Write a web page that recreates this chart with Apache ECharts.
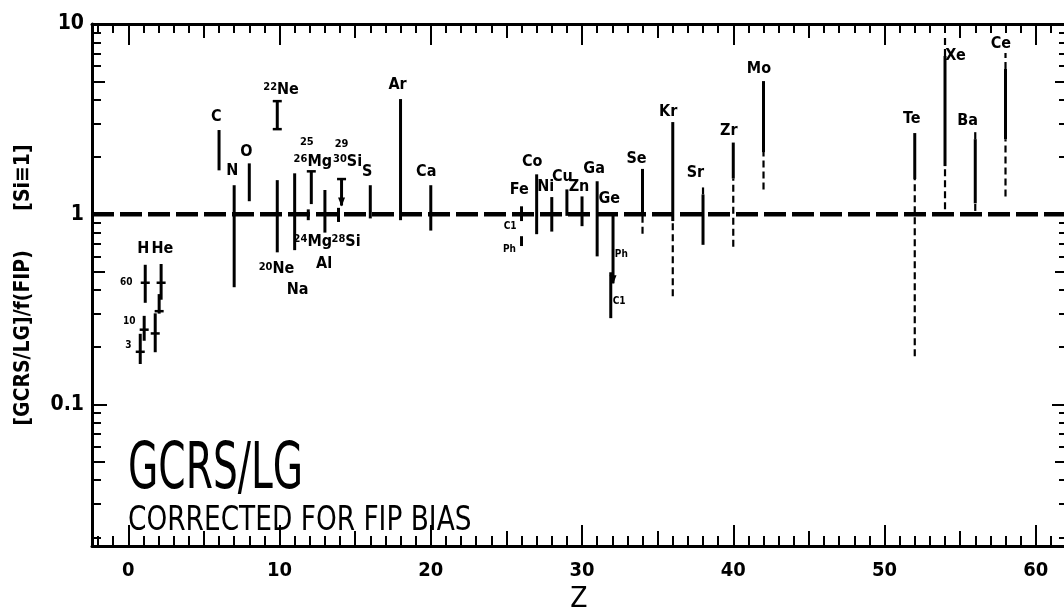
<!DOCTYPE html>
<html><head><meta charset="utf-8">
<script src="https://cdn.jsdelivr.net/npm/echarts@6/dist/echarts.min.js"></script>
<style>html,body{margin:0;padding:0;background:#fff}#c{width:1064px;height:609px}</style>
</head><body><div id="c"></div>
<script>
const FONT = '"DejaVu Sans Condensed","DejaVu Sans",sans-serif';

// ---------- axes ----------
const xMin = -2.4, xMax = 62;
const xLabelValues = [0, 10, 20, 30, 40, 50, 60];
const xLabelTexts = ['0', '10', '20', '30', '40', '50', '60'];
const xMidTicks = [5, 15, 25, 35, 45, 55];
const xMinorTicks = [];
for (let i = -2; i <= 61; i++) xMinorTicks.push(i);

const yMin = 0.018, yMax = 10;
const yLabelValues = [0.1, 1, 10];
const yLabelTexts = ['0.1', '1', '10'];
const yFives = [0.05, 0.5, 5];
const yMinor = [0.02, 0.03, 0.04, 0.06, 0.07, 0.08, 0.09,
                0.2, 0.3, 0.4, 0.6, 0.7, 0.8, 0.9,
                2, 3, 4, 6, 7, 8, 9];

// ---------- data ----------
// reference level (Si = 1), dashed
const unityLine = [[-2.4, 1], [62, 1]];

// measured ranges [Z, low, high] (solid)
const solidRanges = [
  [1.12, 0.342, 0.542], [1.05, 0.216, 0.292], [0.79, 0.163, 0.235],   // H 60,10,3
  [2.17, 0.355, 0.547], [2.04, 0.30, 0.38], [1.78, 0.188, 0.301],     // He 60,10,3
  [6, 1.70, 2.77],      // C
  [7, 0.413, 1.42],     // N
  [8, 1.17, 1.85],      // O
  [9.85, 2.80, 3.93],   // 22Ne
  [9.85, 0.63, 1.51],   // 20Ne
  [11, 0.647, 1.64],    // Na
  [12.1, 1.13, 1.68],   // 25,26Mg
  [11.9, 0.93, 1.06],   // 24Mg
  [13, 0.80, 1.34],     // Al
  [14.1, 1.11, 1.53],   // 29,30Si
  [13.9, 0.91, 1.08],   // 28Si
  [16, 0.95, 1.42],     // S
  [18, 0.93, 4.03],     // Ar
  [20, 0.82, 1.42],     // Ca
  [26, 0.92, 1.10],     // Fe C1
  [26, 0.68, 0.766],    // Fe Ph
  [27, 0.785, 1.62],    // Co
  [28, 0.81, 1.23],     // Ni
  [29, 0.98, 1.35],     // Cu
  [30, 0.865, 1.24],    // Zn
  [31, 0.60, 1.49],     // Ga
  [32.05, 0.433, 1.01], // Ge Ph
  [31.9, 0.284, 0.495], // Ge C1
  [34, 1.0, 1.73],      // Se
  [36, 0.92, 3.05],     // Kr
  [38, 0.69, 1.27],     // Sr
  [40, 1.54, 2.38],     // Zr
  [42, 2.12, 5.01],     // Mo
  [52, 1.53, 2.67],     // Te
  [54, 1.79, 6.79],     // Xe
  [56, 1.14, 2.48],     // Ba
  [58, 2.48, 5.80]      // Ce
];

// uncertain extensions [Z, low, high] (dashed)
const dashedRanges = [
  [34, 0.79, 1.0],      // Se
  [36, 0.37, 0.92],     // Kr
  [38, 1.27, 1.43],     // Sr
  [40, 0.674, 1.54],    // Zr
  [42, 1.35, 2.12],     // Mo
  [52, 0.179, 1.53],    // Te
  [54, 6.79, 8.44], [54, 1.06, 1.79],   // Xe
  [56, 2.48, 2.73], [56, 1.04, 1.14],   // Ba
  [58, 5.80, 7.03], [58, 1.24, 2.48]    // Ce
];

// end caps [Z, value]
const endCaps = [[9.85, 3.93], [9.85, 2.80], [12.1, 1.68], [14.1, 1.53]];
// H/He central values [Z, value]
const centralValues = [[1.12, 0.436], [1.05, 0.247], [0.79, 0.189],
                       [2.17, 0.436], [2.04, 0.309], [1.78, 0.236]];
// downward arrows (limits) [Z, value]
const arrowHeads = [[14.1, 1.11], [32.05, 0.433]];

// element labels [superscript, symbol, Z, value]
const elementLabels = [
  ['', 'H', 0.99, 0.654], ['', 'He', 2.25, 0.654],
  ['', 'C', 5.82, 3.24], ['', 'N', 6.87, 1.68], ['', 'O', 7.8, 2.12],
  ['22', 'Ne', 10.1, 4.5], ['20', 'Ne', 9.8, 0.514], ['', 'Na', 11.2, 0.398],
  ['25', '', 11.8, 2.39], ['26', 'Mg', 12.2, 1.88], ['24', 'Mg', 12.2, 0.713],
  ['', 'Al', 12.95, 0.545],
  ['29', '', 14.1, 2.34], ['30', 'Si', 14.5, 1.88], ['28', 'Si', 14.4, 0.713],
  ['', 'S', 15.8, 1.66], ['', 'Ar', 17.8, 4.77], ['', 'Ca', 19.7, 1.66],
  ['', 'Fe', 25.85, 1.35], ['', 'Co', 26.7, 1.88], ['', 'Ni', 27.6, 1.40],
  ['', 'Cu', 28.7, 1.57], ['', 'Zn', 29.8, 1.40], ['', 'Ga', 30.8, 1.73],
  ['', 'Ge', 31.8, 1.21], ['', 'Se', 33.6, 1.95], ['', 'Kr', 35.7, 3.44],
  ['', 'Sr', 37.5, 1.64], ['', 'Zr', 39.7, 2.73], ['', 'Mo', 41.7, 5.8],
  ['', 'Te', 51.8, 3.18], ['', 'Xe', 54.7, 6.83], ['', 'Ba', 55.5, 3.1],
  ['', 'Ce', 57.7, 7.9]
];
// small annotations [text, Z, value]
const smallLabels = [
  ['60', -0.13, 0.438], ['10', 0.07, 0.273], ['3', 0.0, 0.205],
  ['C1', 25.25, 0.865], ['Ph', 25.2, 0.654],
  ['Ph', 32.6, 0.616], ['C1', 32.45, 0.348]
];

const titleMain = 'GCRS/LG';
const titleSub = 'CORRECTED FOR FIP BIAS';
const yTitle = '[GCRS/LG]/f(FIP)      [Si\u22611]';
const xTitle = 'Z';

// ---------- chart ----------
const chart = echarts.init(document.getElementById('c'));
const BLACK = '#000';

function xAx(pos, ticks, len, extra) {
  return Object.assign({
    type: 'value', position: pos, min: xMin, max: xMax,
    axisLine: { show: false, onZero: false }, splitLine: { show: false },
    axisTick: { show: true, inside: true, length: len, customValues: ticks, lineStyle: { color: BLACK, width: 2 } },
    axisLabel: { show: false }
  }, extra || {});
}
function yAx(pos, ticks, len, extra) {
  return Object.assign({
    type: 'log', logBase: 10, position: pos, min: yMin, max: yMax,
    axisLine: { show: false, onZero: false }, splitLine: { show: false }, minorTick: { show: false },
    axisTick: { show: true, inside: true, length: len, customValues: ticks, lineStyle: { color: BLACK, width: 2 } },
    axisLabel: { show: false }
  }, extra || {});
}

const lineAxis = { show: true, onZero: false, lineStyle: { color: BLACK, width: 3 } };

const xAxes = [
  xAx('bottom', xLabelValues, 21, {
    axisLine: lineAxis,
    axisLabel: {
      show: true, customValues: xLabelValues, margin: 15, color: BLACK,
      fontFamily: FONT, fontSize: 20, fontWeight: 'bold',
      formatter: v => xLabelTexts[xLabelValues.indexOf(Math.round(v))] || ''
    },
    name: xTitle, nameLocation: 'middle', nameGap: 40,
    nameTextStyle: { color: BLACK, fontFamily: FONT, fontSize: 28 }
  }),
  xAx('bottom', xMidTicks, 15),
  xAx('bottom', xMinorTicks, 10),
  xAx('top', xLabelValues, 21, { axisLine: lineAxis }),
  xAx('top', xMidTicks, 14),
  xAx('top', xMinorTicks, 9)
];

const yAxes = [
  yAx('left', yLabelValues, 15, {
    axisLine: lineAxis,
    axisLabel: {
      show: true, customValues: yLabelValues, margin: 8, color: BLACK,
      fontFamily: FONT, fontSize: 21, fontWeight: 'bold',
      formatter: v => {
        const i = yLabelValues.findIndex(t => Math.abs(Math.log10(t) - Math.log10(v)) < 0.01);
        return i >= 0 ? yLabelTexts[i] : '';
      }
    },
    name: yTitle, nameLocation: 'middle', nameRotate: 90, nameGap: 58,
    nameTextStyle: { color: BLACK, fontFamily: FONT, fontSize: 21, fontWeight: 'bold' }
  }),
  yAx('left', yFives, 13),
  yAx('left', yMinor, 9),
  yAx('right', yLabelValues, 14, { axisLine: lineAxis }),
  yAx('right', yFives, 11),
  yAx('right', yMinor, 7)
];

function rangeRenderer(dashed) {
  return function (params, api) {
    const z = api.value(0), lo = api.value(1), hi = api.value(2);
    const p1 = api.coord([z, lo]), p2 = api.coord([z, hi]);
    return {
      type: 'line',
      shape: { x1: p1[0], y1: p1[1], x2: p2[0], y2: p2[1] },
      style: { stroke: BLACK, lineWidth: dashed ? 2.2 : 3, lineDash: dashed ? [7, 4] : null, lineCap: 'butt' }
    };
  };
}
function hbarRenderer(halfWidth, lw) {
  return function (params, api) {
    const p = api.coord([api.value(0), api.value(1)]);
    return {
      type: 'line',
      shape: { x1: p[0] - halfWidth, y1: p[1], x2: p[0] + halfWidth, y2: p[1] },
      style: { stroke: BLACK, lineWidth: lw }
    };
  };
}
function arrowRenderer(params, api) {
  const p = api.coord([api.value(0), api.value(1)]);
  return {
    type: 'polygon',
    shape: { points: [[p[0] - 3.5, p[1] - 8], [p[0] + 3.5, p[1] - 8], [p[0], p[1] + 1]] },
    style: { fill: BLACK }
  };
}
function labelRenderer(params, api) {
  const p = api.coord([api.value(0), api.value(1)]);
  const l = elementLabels[params.dataIndex];
  let txt = '';
  if (l[0]) txt += '{s|' + l[0] + '}';
  if (l[1]) txt += '{e|' + l[1] + '}';
  return {
    type: 'text', x: p[0], y: p[1],
    style: {
      text: txt, fill: BLACK, align: 'center', verticalAlign: 'middle',
      rich: {
        s: { fontFamily: FONT, fontSize: 11, fontWeight: 'bold', verticalAlign: 'top', fill: BLACK },
        e: { fontFamily: FONT, fontSize: 16, fontWeight: 'bold', verticalAlign: 'middle', fill: BLACK }
      }
    }
  };
}
function smallRenderer(params, api) {
  const p = api.coord([api.value(0), api.value(1)]);
  return {
    type: 'text', x: p[0], y: p[1],
    style: {
      text: smallLabels[params.dataIndex][0], fill: BLACK, align: 'center', verticalAlign: 'middle',
      fontFamily: FONT, fontSize: 10, fontWeight: 'bold'
    }
  };
}

const option = {
  backgroundColor: '#fff',
  animation: false,
  grid: { left: 92, right: -2, top: 24, bottom: 63, containLabel: false, outerBoundsMode: 'none' },
  xAxis: xAxes,
  yAxis: yAxes,
  graphic: [
    { type: 'text', x: 128, y: 471, scaleX: 0.68,
      style: { text: titleMain, fill: BLACK, font: '64px ' + FONT, verticalAlign: 'middle' } },
    { type: 'text', x: 128, y: 521, scaleX: 0.89,
      style: { text: titleSub, fill: BLACK, font: '33px ' + FONT, verticalAlign: 'middle' } }
  ],
  series: [
    { type: 'line', data: unityLine, symbol: 'none', xAxisIndex: 0, yAxisIndex: 0,
      lineStyle: { color: BLACK, width: 4.5, type: [22, 6], cap: 'butt' }, z: 2 },
    { type: 'custom', data: solidRanges, renderItem: rangeRenderer(false), encode: { x: 0, y: [1, 2] }, z: 3 },
    { type: 'custom', data: dashedRanges, renderItem: rangeRenderer(true), encode: { x: 0, y: [1, 2] }, z: 3 },
    { type: 'custom', data: endCaps, renderItem: hbarRenderer(4.5, 2.5), encode: { x: 0, y: 1 }, z: 3 },
    { type: 'custom', data: centralValues, renderItem: hbarRenderer(4.5, 2.5), encode: { x: 0, y: 1 }, z: 3 },
    { type: 'custom', data: arrowHeads, renderItem: arrowRenderer, encode: { x: 0, y: 1 }, z: 3 },
    { type: 'custom', data: elementLabels.map(l => [l[2], l[3]]), renderItem: labelRenderer, encode: { x: 0, y: 1 }, z: 4 },
    { type: 'custom', data: smallLabels.map(l => [l[1], l[2]]), renderItem: smallRenderer, encode: { x: 0, y: 1 }, z: 4 }
  ]
};
chart.setOption(option);
</script>
</body></html>
